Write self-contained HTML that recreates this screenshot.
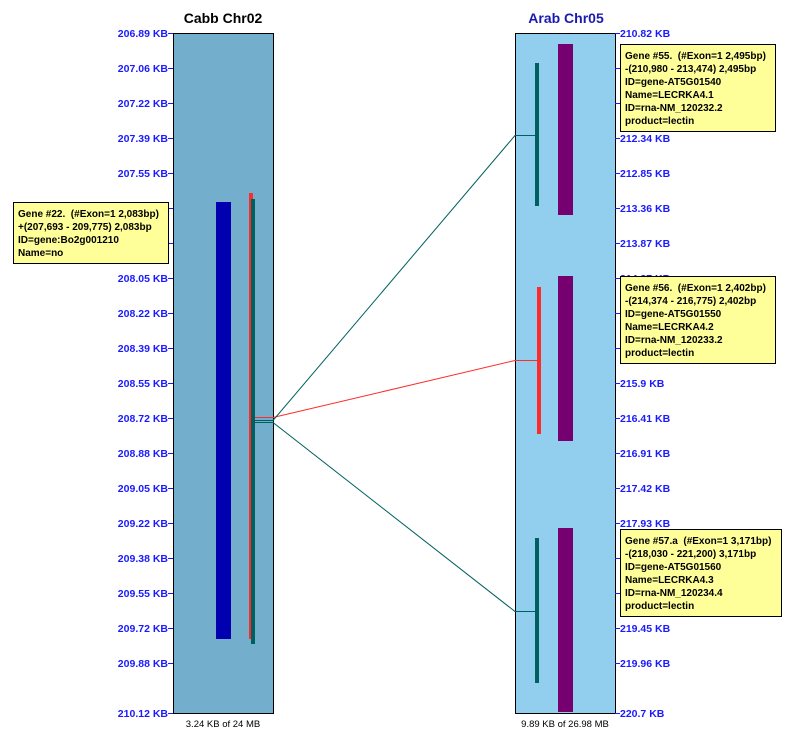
<!DOCTYPE html>
<html><head><meta charset="utf-8"><style>
html,body{margin:0;padding:0;background:#fff;}
svg{display:block;}
text{font-family:"Liberation Sans",Arial,sans-serif;white-space:pre;}
.lt{font-size:10.5px;font-weight:bold;fill:#1a1aff;}
.tt{font-size:10px;font-weight:bold;fill:#000;}
</style></head><body>
<svg width="809" height="737" viewBox="0 0 809 737" xmlns="http://www.w3.org/2000/svg" xml:space="preserve">
<rect x="0" y="0" width="809" height="737" fill="#fff"/>
<text x="223" y="23" text-anchor="middle" font-size="14" font-weight="bold" fill="#000">Cabb Chr02</text>
<text x="566" y="23" text-anchor="middle" font-size="14" font-weight="bold" fill="#1a1ab0">Arab Chr05</text>

<rect x="173.5" y="33.5" width="100" height="680" fill="#73aecd" stroke="#000" stroke-width="1"/>
<rect x="515.5" y="33.5" width="100" height="680" fill="#92cfee" stroke="#000" stroke-width="1"/>

<g stroke="#1a1aff" stroke-width="1">
<line x1="168" y1="33.5" x2="173" y2="33.5"/><line x1="168" y1="68.5" x2="173" y2="68.5"/><line x1="168" y1="103.5" x2="173" y2="103.5"/><line x1="168" y1="138.5" x2="173" y2="138.5"/><line x1="168" y1="173.5" x2="173" y2="173.5"/><line x1="168" y1="208.5" x2="173" y2="208.5"/><line x1="168" y1="243.5" x2="173" y2="243.5"/><line x1="168" y1="278.5" x2="173" y2="278.5"/><line x1="168" y1="313.5" x2="173" y2="313.5"/><line x1="168" y1="348.5" x2="173" y2="348.5"/><line x1="168" y1="383.5" x2="173" y2="383.5"/><line x1="168" y1="418.5" x2="173" y2="418.5"/><line x1="168" y1="453.5" x2="173" y2="453.5"/><line x1="168" y1="488.5" x2="173" y2="488.5"/><line x1="168" y1="523.5" x2="173" y2="523.5"/><line x1="168" y1="558.5" x2="173" y2="558.5"/><line x1="168" y1="593.5" x2="173" y2="593.5"/><line x1="168" y1="628.5" x2="173" y2="628.5"/><line x1="168" y1="663.5" x2="173" y2="663.5"/><line x1="168" y1="713.5" x2="173" y2="713.5"/>
</g>
<g class="lt" text-anchor="end">
<text x="168" y="37">206.89 KB</text><text x="168" y="72">207.06 KB</text><text x="168" y="107">207.22 KB</text><text x="168" y="142">207.39 KB</text><text x="168" y="177">207.55 KB</text><text x="168" y="282">208.05 KB</text><text x="168" y="317">208.22 KB</text><text x="168" y="352">208.39 KB</text><text x="168" y="387">208.55 KB</text><text x="168" y="422">208.72 KB</text><text x="168" y="457">208.88 KB</text><text x="168" y="492">209.05 KB</text><text x="168" y="527">209.22 KB</text><text x="168" y="562">209.38 KB</text><text x="168" y="597">209.55 KB</text><text x="168" y="632">209.72 KB</text><text x="168" y="667">209.88 KB</text><text x="168" y="717">210.12 KB</text>
</g>

<g stroke="#1a1aff" stroke-width="1">
<line x1="615" y1="33.5" x2="620" y2="33.5"/><line x1="615" y1="68.5" x2="620" y2="68.5"/><line x1="615" y1="103.5" x2="620" y2="103.5"/><line x1="615" y1="138.5" x2="620" y2="138.5"/><line x1="615" y1="173.5" x2="620" y2="173.5"/><line x1="615" y1="208.5" x2="620" y2="208.5"/><line x1="615" y1="243.5" x2="620" y2="243.5"/><line x1="615" y1="278.5" x2="620" y2="278.5"/><line x1="615" y1="313.5" x2="620" y2="313.5"/><line x1="615" y1="348.5" x2="620" y2="348.5"/><line x1="615" y1="383.5" x2="620" y2="383.5"/><line x1="615" y1="418.5" x2="620" y2="418.5"/><line x1="615" y1="453.5" x2="620" y2="453.5"/><line x1="615" y1="488.5" x2="620" y2="488.5"/><line x1="615" y1="523.5" x2="620" y2="523.5"/><line x1="615" y1="558.5" x2="620" y2="558.5"/><line x1="615" y1="593.5" x2="620" y2="593.5"/><line x1="615" y1="628.5" x2="620" y2="628.5"/><line x1="615" y1="663.5" x2="620" y2="663.5"/><line x1="615" y1="713.5" x2="620" y2="713.5"/>
</g>
<g class="lt">
<text x="620" y="37">210.82 KB</text><text x="620" y="142">212.34 KB</text><text x="620" y="177">212.85 KB</text><text x="620" y="212">213.36 KB</text><text x="620" y="247">213.87 KB</text><text x="620" y="282">214.37 KB</text><text x="620" y="387">215.9 KB</text><text x="620" y="422">216.41 KB</text><text x="620" y="457">216.91 KB</text><text x="620" y="492">217.42 KB</text><text x="620" y="527">217.93 KB</text><text x="620" y="632">219.45 KB</text><text x="620" y="667">219.96 KB</text><text x="620" y="717">220.7 KB</text>
</g>

<rect x="216" y="202" width="15" height="437" fill="#0000b0"/>
<rect x="249" y="193" width="4" height="446" fill="#ff2a2a"/>
<rect x="251" y="199" width="4" height="445" fill="#006060"/>

<rect x="558" y="44" width="15" height="171" fill="#760070"/>
<rect x="558" y="276" width="15" height="165" fill="#760070"/>
<rect x="558" y="528" width="15" height="184" fill="#760070"/>
<rect x="535" y="63" width="4" height="143" fill="#006060"/>
<rect x="537" y="287" width="4" height="147" fill="#ff2a2a"/>
<rect x="535" y="538" width="4" height="145" fill="#006060"/>

<g fill="none" stroke-width="1">
<polyline points="255,417.5 273,417.5 515,360.5 538,360.5" stroke="#ff2a2a"/>
<polyline points="255,420.5 273,420.5 515,135.5 536,135.5" stroke="#006060"/>
<polyline points="255,422.5 273,422.5 515,611.5 536,611.5" stroke="#006060"/>
</g>

<text x="223" y="727" text-anchor="middle" font-size="9.5" fill="#000">3.24 KB of 24 MB</text>
<text x="565" y="727" text-anchor="middle" font-size="9.5" fill="#000">9.89 KB of 26.98 MB</text>

<rect x="13.5" y="202.5" width="155" height="61" fill="#ffff99" stroke="#000"/>
<g class="tt"><text x="18" y="217">Gene #22.  (#Exon=1 2,083bp)</text><text x="18" y="230">+(207,693 - 209,775) 2,083bp</text><text x="18" y="243">ID=gene:Bo2g001210</text><text x="18" y="256">Name=no</text></g>

<rect x="620.5" y="44.5" width="155" height="87" fill="#ffff99" stroke="#000"/>
<g class="tt"><text x="625" y="59">Gene #55.  (#Exon=1 2,495bp)</text><text x="625" y="72">-(210,980 - 213,474) 2,495bp</text><text x="625" y="85">ID=gene-AT5G01540</text><text x="625" y="98">Name=LECRKA4.1</text><text x="625" y="111">ID=rna-NM_120232.2</text><text x="625" y="124">product=lectin</text></g>

<rect x="620.5" y="276.5" width="155" height="87" fill="#ffff99" stroke="#000"/>
<g class="tt"><text x="625" y="291">Gene #56.  (#Exon=1 2,402bp)</text><text x="625" y="304">-(214,374 - 216,775) 2,402bp</text><text x="625" y="317">ID=gene-AT5G01550</text><text x="625" y="330">Name=LECRKA4.2</text><text x="625" y="343">ID=rna-NM_120233.2</text><text x="625" y="356">product=lectin</text></g>

<rect x="620.5" y="529.5" width="161" height="87" fill="#ffff99" stroke="#000"/>
<g class="tt"><text x="625" y="544">Gene #57.a  (#Exon=1 3,171bp)</text><text x="625" y="557">-(218,030 - 221,200) 3,171bp</text><text x="625" y="570">ID=gene-AT5G01560</text><text x="625" y="583">Name=LECRKA4.3</text><text x="625" y="596">ID=rna-NM_120234.4</text><text x="625" y="609">product=lectin</text></g>
</svg>
</body></html>
